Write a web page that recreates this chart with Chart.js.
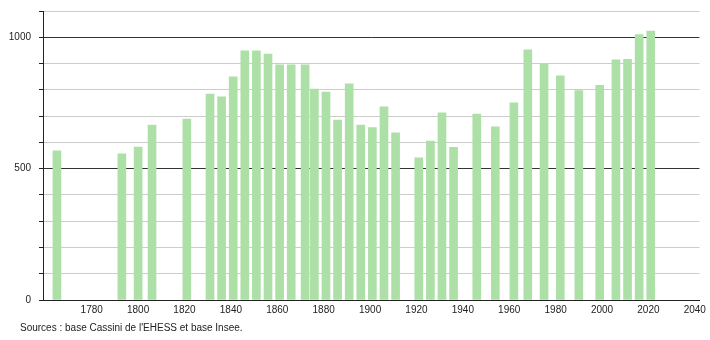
<!DOCTYPE html>
<html>
<head>
<meta charset="utf-8">
<script src="https://cdn.jsdelivr.net/npm/chart.js@4"></script>
<style>
  body { margin: 0; background: #fff; }
  #wrap { position: relative; width: 710px; height: 340px; }
  #sources { position: absolute; left: 20px; top: 322px; font: 10px "Liberation Sans", Arial, sans-serif; color: #222; }
</style>
</head>
<body>
<div id="wrap">
  <canvas id="popChart" width="710" height="340"></canvas>
  <div id="sources">Sources : base Cassini de l'EHESS et base Insee.</div>
</div>
<script>
var years = [1765, 1793, 1800, 1806, 1821, 1831, 1836, 1841, 1846, 1851, 1856, 1861, 1866, 1872,
  1876, 1881, 1886, 1891, 1896, 1901, 1906, 1911, 1921, 1926, 1931, 1936, 1946, 1954, 1962,
  1968, 1975, 1982, 1990, 1999, 2006, 2011, 2016, 2021];
var population = [568, 556, 582, 666, 689, 784, 773, 849, 948, 948, 936, 895, 895, 895,
  803, 791, 685, 823, 666, 656, 735, 636, 541, 605, 712, 581, 708, 659, 750,
  952, 901, 853, 797, 817, 914, 916, 1010, 1024];
var xTicks = [1780, 1800, 1820, 1840, 1860, 1880, 1900, 1920, 1940, 1960, 1980, 2000, 2020, 2040];
var yLabels = [0, 500, 1000];

var points = [];
for (var i = 0; i < years.length; i++) {
  points.push({x: years[i], y: population[i]});
}

const font = {family: '"Liberation Sans", Arial, sans-serif', size: 10};

new Chart("popChart", {
  type: "bar",
  data: {
    datasets: [{
      data: points,
      backgroundColor: "rgb(172,224,166)",
      barThickness: 8
    }]
  },
  options: {
    responsive: false,
    animation: false,
    layout: {padding: {left: 0, top: 11, right: 9, bottom: 20}},
    plugins: {legend: {display: false}, tooltip: {enabled: false}},
    scales: {
      x: {
        type: "linear",
        offset: false,
        min: 1759,
        max: 2042,
        afterBuildTicks: (scale) => { scale.ticks = xTicks.map(v => ({value: v})); },
        afterFit: (scale) => { scale.height = 20; },
        grid: {display: false, drawTicks: false},
        border: {display: true, color: "#222", width: 1},
        ticks: {
          font: font, color: "#222", padding: 4, maxRotation: 0, autoSkip: false,
          callback: (v) => String(v)
        }
      },
      y: {
        min: 0,
        max: 1100,
        afterFit: (scale) => {
          scale.width = 43;
          scale.paddingTop = 0;
          scale.paddingBottom = 0;
        },
        ticks: {
          stepSize: 100,
          font: font,
          color: "#222",
          padding: 8,
          callback: (v) => yLabels.includes(v) ? String(v) : ""
        },
        grid: {
          color: (ctx) => ctx.tick && ctx.tick.value % 500 === 0 ? "#333" : "#cccccc",
          tickColor: "#222",
          tickLength: 4,
          lineWidth: 1
        },
        border: {display: true, color: "#222", width: 1}
      }
    }
  }
});
</script>
</body>
</html>
